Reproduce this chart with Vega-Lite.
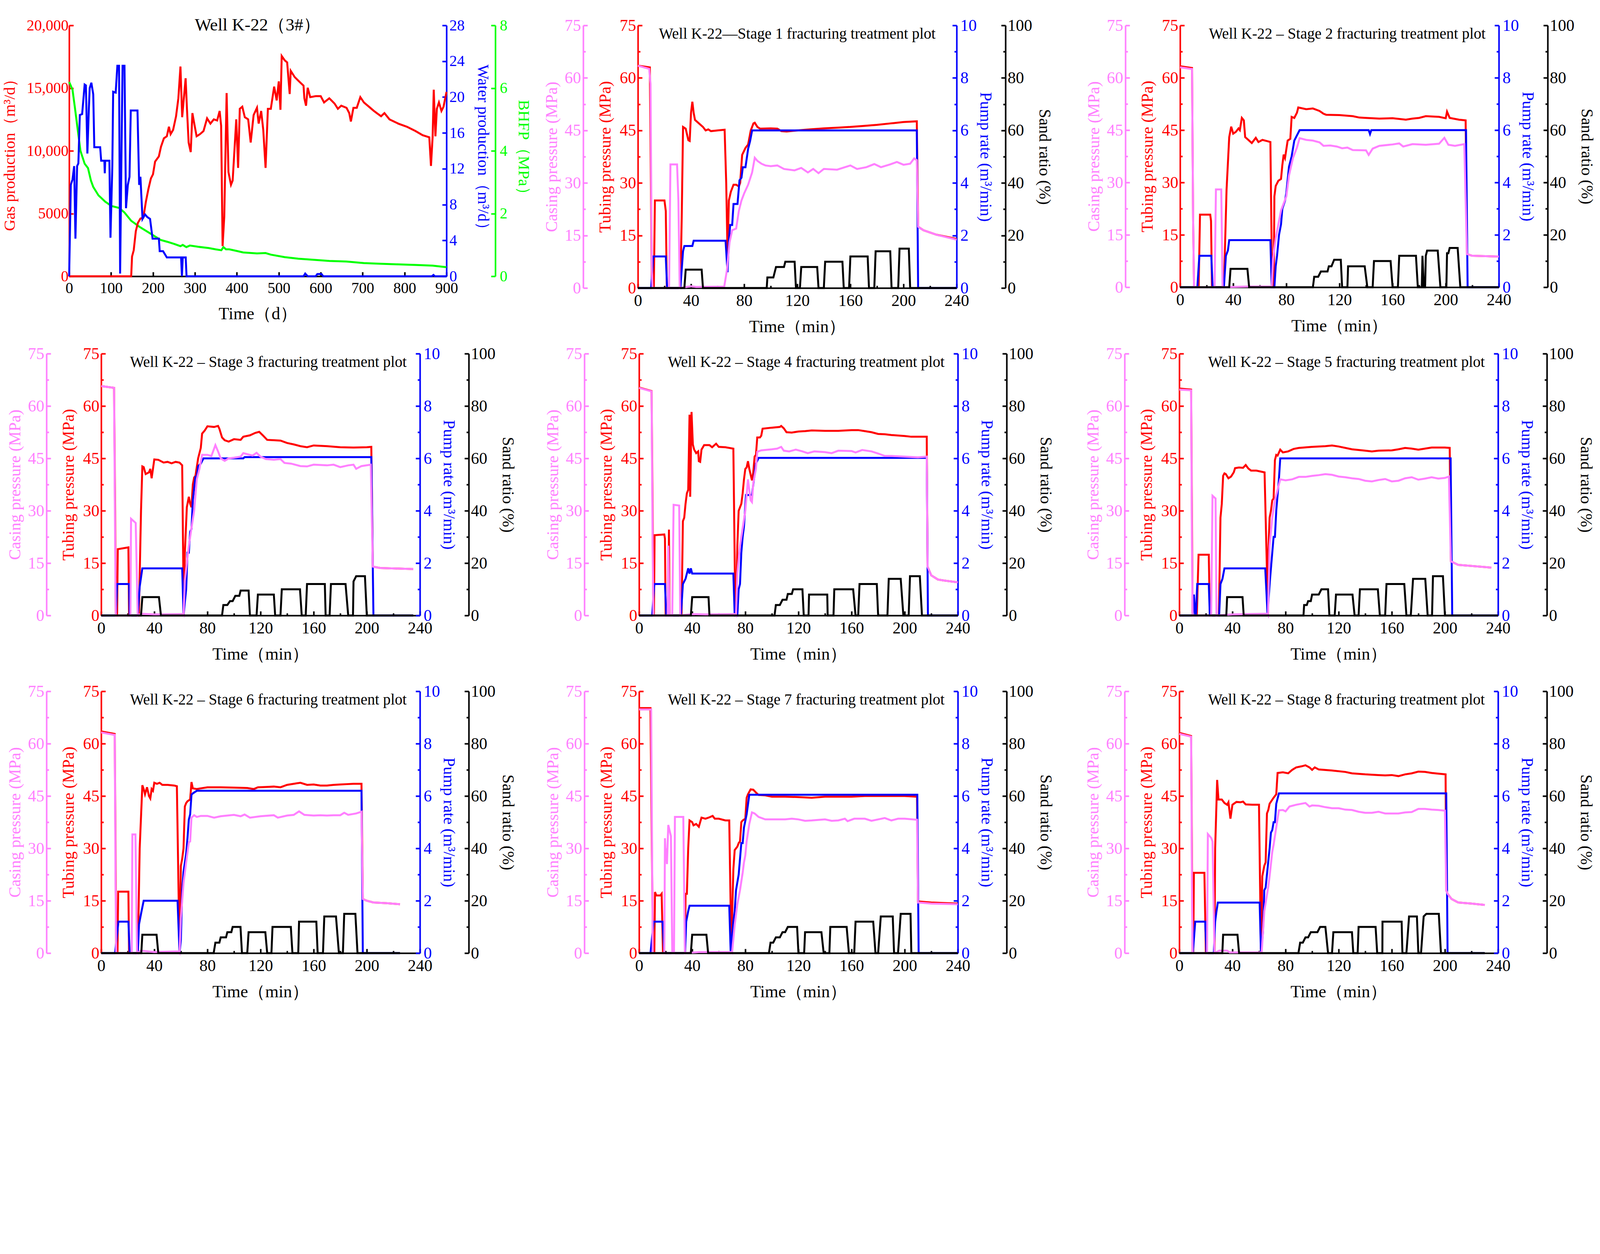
{
"$schema": "https://vega.github.io/schema/vega-lite/v6.json",
"background": "white",
"padding": {"left": 4, "top": 42, "right": 0, "bottom": 0},
"config": {
  "view": {"stroke": null},
  "font": "Liberation Serif",
  "axis": {"grid": false, "labelFont": "Liberation Serif", "titleFont": "Liberation Serif", "labelFontSize": 42, "titleFontSize": 42, "titleFontWeight": "normal", "domainWidth": 4, "tickWidth": 4, "labelOverlap": false, "labelFlush": false, "labelPadding": 16, "titlePadding": 14, "domainColor": "black", "tickColor": "black", "labelColor": "black", "titleColor": "black"},
  "title": {"font": "Liberation Serif", "fontSize": 39, "fontWeight": "normal", "color": "black"},
  "line": {"strokeWidth": 5}
},
"datasets": {
"spacer": [{"t":0}],
"g": [{"t":0,"v":0},{"t":148,"v":0},{"t":150,"v":1570},{"t":154,"v":2070},{"t":159,"v":3590},{"t":164,"v":4260},{"t":170,"v":4600},{"t":177,"v":4680},{"t":183,"v":5940},{"t":189,"v":6950},{"t":195,"v":7800},{"t":200,"v":8130},{"t":205,"v":9140},{"t":214,"v":9560},{"t":219,"v":10320},{"t":226,"v":11000},{"t":233,"v":11160},{"t":238,"v":11920},{"t":242,"v":11330},{"t":248,"v":11670},{"t":255,"v":12760},{"t":260.5,"v":14190},{"t":265.5,"v":16720},{"t":269.6,"v":12680},{"t":277.8,"v":15790},{"t":281,"v":13350},{"t":285,"v":10660},{"t":290,"v":9900},{"t":294,"v":13010},{"t":297.5,"v":12340},{"t":304,"v":11160},{"t":312,"v":11330},{"t":320.5,"v":11580},{"t":329,"v":12590},{"t":337,"v":12170},{"t":345,"v":12510},{"t":353,"v":12420},{"t":359,"v":13180},{"t":362.5,"v":12000},{"t":366,"v":2410},{"t":370,"v":4760},{"t":375.6,"v":14610},{"t":380,"v":8300},{"t":386,"v":7290},{"t":390,"v":7630},{"t":398.6,"v":12510},{"t":403,"v":8640},{"t":407,"v":13350},{"t":413,"v":13520},{"t":419,"v":12680},{"t":427,"v":12510},{"t":433,"v":10660},{"t":440,"v":12850},{"t":448,"v":13430},{"t":452,"v":12170},{"t":458,"v":13180},{"t":463,"v":11670},{"t":468.5,"v":8640},{"t":474,"v":13350},{"t":481,"v":13350},{"t":489,"v":15120},{"t":495,"v":14020},{"t":500,"v":15540},{"t":504,"v":13270},{"t":507,"v":17560},{"t":514,"v":17220},{"t":520,"v":17050},{"t":526,"v":14530},{"t":528.5,"v":16380},{"t":538,"v":15880},{"t":551,"v":15450},{"t":559,"v":15200},{"t":561,"v":14190},{"t":565,"v":13600},{"t":569,"v":15030},{"t":575,"v":14280},{"t":588,"v":14360},{"t":600,"v":14360},{"t":608,"v":13860},{"t":620.5,"v":14190},{"t":633,"v":13770},{"t":641,"v":13350},{"t":649,"v":13600},{"t":661.6,"v":13430},{"t":668,"v":13010},{"t":672,"v":12340},{"t":678,"v":13430},{"t":686,"v":13430},{"t":694.5,"v":14280},{"t":703,"v":13860},{"t":715,"v":13520},{"t":727,"v":13180},{"t":744,"v":12760},{"t":752,"v":13010},{"t":764,"v":12510},{"t":785,"v":12170},{"t":805.5,"v":11920},{"t":826,"v":11580},{"t":843,"v":11250},{"t":859,"v":11080},{"t":863,"v":8800},{"t":867,"v":11160},{"t":869.6,"v":14870},{"t":873.6,"v":11160},{"t":877,"v":13350},{"t":882,"v":13860},{"t":888,"v":13180},{"t":893,"v":13520},{"t":900,"v":14700}],
"w": [{"t":0,"v":0},{"t":4,"v":10.2},{"t":8,"v":10.8},{"t":12,"v":12.3},{"t":15,"v":4.2},{"t":19,"v":12.3},{"t":22,"v":12.6},{"t":25.5,"v":18},{"t":31,"v":18.1},{"t":37,"v":21.4},{"t":40,"v":21.3},{"t":43.5,"v":13.7},{"t":47,"v":18.7},{"t":49,"v":21},{"t":53,"v":21.6},{"t":57.5,"v":20.3},{"t":60,"v":14.4},{"t":74,"v":14.4},{"t":76.4,"v":12.9},{"t":84,"v":12.9},{"t":85,"v":11.5},{"t":86,"v":12.9},{"t":96,"v":12.9},{"t":98.6,"v":4.3},{"t":103,"v":12.3},{"t":105,"v":20.6},{"t":111,"v":20.5},{"t":115,"v":23.5},{"t":119,"v":23.5},{"t":121.6,"v":0.3},{"t":125,"v":14.4},{"t":127.4,"v":23.5},{"t":132,"v":23.5},{"t":135.6,"v":7.6},{"t":140,"v":10.2},{"t":144,"v":11.1},{"t":147,"v":18.5},{"t":163,"v":18.5},{"t":167,"v":10.2},{"t":170,"v":11.1},{"t":175,"v":6.4},{"t":181,"v":6.9},{"t":186.6,"v":6.6},{"t":193,"v":6.4},{"t":199,"v":4.2},{"t":214,"v":4.2},{"t":216,"v":2.8},{"t":224,"v":2.8},{"t":233,"v":2.1},{"t":267,"v":2.1},{"t":269,"v":0},{"t":271,"v":2.1},{"t":278,"v":2.1},{"t":280,"v":0},{"t":559,"v":0},{"t":563,"v":0.3},{"t":569,"v":0},{"t":588,"v":0},{"t":592,"v":0.25},{"t":602,"v":0.25},{"t":606,"v":0},{"t":865,"v":0},{"t":869,"v":0.15},{"t":872,"v":0},{"t":900,"v":0}],
"b": [{"t":0,"v":6.2},{"t":8,"v":5.95},{"t":14,"v":5.35},{"t":20.5,"v":4.67},{"t":27,"v":4.0},{"t":37,"v":3.59},{"t":45,"v":3.45},{"t":52,"v":3.05},{"t":57.5,"v":2.85},{"t":70,"v":2.58},{"t":86,"v":2.38},{"t":101,"v":2.24},{"t":119,"v":2.18},{"t":131.5,"v":2.04},{"t":148,"v":1.77},{"t":168.5,"v":1.57},{"t":193,"v":1.37},{"t":218,"v":1.16},{"t":234,"v":1.1},{"t":251,"v":1.03},{"t":265.5,"v":0.96},{"t":271,"v":1.0},{"t":279.5,"v":0.93},{"t":288,"v":0.98},{"t":308,"v":0.94},{"t":333,"v":0.9},{"t":349,"v":0.86},{"t":363,"v":0.83},{"t":368,"v":0.93},{"t":374,"v":0.86},{"t":382,"v":0.86},{"t":399,"v":0.81},{"t":415,"v":0.76},{"t":448,"v":0.73},{"t":468.5,"v":0.74},{"t":481,"v":0.69},{"t":514,"v":0.61},{"t":546.5,"v":0.56},{"t":579,"v":0.53},{"t":620.5,"v":0.49},{"t":661.6,"v":0.47},{"t":703,"v":0.42},{"t":744,"v":0.4},{"t":785,"v":0.38},{"t":826,"v":0.36},{"t":867,"v":0.34},{"t":900,"v":0.29}],
"s1tp": [{"t":0,"v":63.5},{"t":9,"v":63},{"t":9.8,"v":30},{"t":10.5,"v":0},{"t":12,"v":0},{"t":12.8,"v":25},{"t":20,"v":25},{"t":21,"v":22},{"t":21.8,"v":0},{"t":32,"v":0},{"t":33,"v":20},{"t":34,"v":46},{"t":36,"v":45.5},{"t":38,"v":42.2},{"t":39,"v":42},{"t":40,"v":50},{"t":41,"v":53.2},{"t":42,"v":50},{"t":43,"v":48},{"t":46,"v":47},{"t":49,"v":46},{"t":51,"v":45},{"t":53,"v":45.3},{"t":55,"v":44.8},{"t":60,"v":45},{"t":65.3,"v":45.2},{"t":66.5,"v":30},{"t":67.5,"v":9.6},{"t":68.5,"v":25},{"t":70,"v":27.5},{"t":72,"v":29.5},{"t":74,"v":29.5},{"t":76,"v":29},{"t":77,"v":30},{"t":78.5,"v":38},{"t":81,"v":40},{"t":83,"v":41},{"t":85,"v":45},{"t":87,"v":47},{"t":88,"v":47.2},{"t":90,"v":46},{"t":92,"v":45.5},{"t":100,"v":45.6},{"t":105,"v":45.5},{"t":108,"v":44.8},{"t":112,"v":44.7},{"t":120,"v":45},{"t":130,"v":45.3},{"t":140,"v":45.6},{"t":150,"v":45.8},{"t":160,"v":46},{"t":170,"v":46.3},{"t":180,"v":46.6},{"t":190,"v":47},{"t":200,"v":47.4},{"t":210,"v":47.6},{"t":211,"v":17.5},{"t":215,"v":16.5},{"t":225,"v":15.2},{"t":240,"v":14}],
"s1cp": [{"t":0,"v":63.5},{"t":8.5,"v":62.6},{"t":9.5,"v":58.3},{"t":10.5,"v":5},{"t":11,"v":0},{"t":23.5,"v":0},{"t":24.5,"v":35.3},{"t":29.5,"v":35.3},{"t":30.5,"v":25},{"t":31.5,"v":0},{"t":40,"v":0.5},{"t":44,"v":0.3},{"t":65,"v":0.4},{"t":67,"v":5},{"t":69,"v":13},{"t":71,"v":16.5},{"t":74,"v":17},{"t":76,"v":22},{"t":78,"v":25},{"t":80,"v":27},{"t":83,"v":29.5},{"t":86,"v":33},{"t":88,"v":37.2},{"t":90,"v":36.3},{"t":93,"v":35.5},{"t":96,"v":35},{"t":100,"v":34.8},{"t":105,"v":35},{"t":110,"v":34},{"t":118,"v":33.6},{"t":123,"v":34.3},{"t":128,"v":33},{"t":132,"v":34},{"t":136,"v":32.8},{"t":140,"v":34},{"t":150,"v":33.8},{"t":160,"v":35},{"t":165,"v":34},{"t":172,"v":34.5},{"t":178,"v":35.4},{"t":183,"v":34.5},{"t":190,"v":35.3},{"t":195,"v":36},{"t":200,"v":35.2},{"t":205,"v":35.5},{"t":208,"v":37},{"t":210,"v":36.5},{"t":211,"v":17.5},{"t":215,"v":16.5},{"t":225,"v":15.2},{"t":240,"v":13.8}],
"s1pr": [{"t":0,"v":0},{"t":10,"v":0},{"t":11.5,"v":1.2},{"t":21,"v":1.2},{"t":22,"v":0},{"t":32,"v":0},{"t":34,"v":1.4},{"t":35,"v":1.6},{"t":41,"v":1.6},{"t":42,"v":1.8},{"t":66,"v":1.8},{"t":67.5,"v":0.6},{"t":68.5,"v":1.8},{"t":69.5,"v":2.4},{"t":71,"v":2.4},{"t":72,"v":3.2},{"t":75,"v":3.2},{"t":76.5,"v":4.1},{"t":78,"v":4.2},{"t":79,"v":4.6},{"t":81,"v":4.6},{"t":83,"v":5.3},{"t":84.5,"v":5.6},{"t":86,"v":6.0},{"t":210,"v":6.0},{"t":211,"v":0},{"t":240,"v":0}],
"s1sr": [{"t":0,"v":0},{"t":35,"v":0},{"t":36,"v":7},{"t":48,"v":7},{"t":49,"v":0},{"t":97,"v":0},{"t":97.5,"v":4},{"t":102,"v":4},{"t":104,"v":8},{"t":110,"v":8},{"t":111,"v":10},{"t":118,"v":10},{"t":119,"v":0},{"t":122,"v":0},{"t":123,"v":8},{"t":135,"v":8},{"t":136,"v":0},{"t":140,"v":0},{"t":141,"v":10},{"t":154,"v":10},{"t":155,"v":0},{"t":159,"v":0},{"t":160,"v":12},{"t":173,"v":12},{"t":174,"v":0},{"t":178,"v":0},{"t":179,"v":14},{"t":190,"v":14},{"t":191,"v":0},{"t":196,"v":0},{"t":197,"v":15},{"t":204,"v":15},{"t":205,"v":0},{"t":240,"v":0}],
"s2tp": [{"t":0,"v":63.3},{"t":9,"v":62.8},{"t":9.8,"v":20},{"t":10.5,"v":0},{"t":14,"v":0},{"t":15,"v":20.8},{"t":22.7,"v":20.8},{"t":23.3,"v":19},{"t":24,"v":0},{"t":33,"v":0},{"t":35,"v":28},{"t":37,"v":43},{"t":38.5,"v":46},{"t":40,"v":44},{"t":42,"v":44.5},{"t":44,"v":45.5},{"t":45,"v":45},{"t":46.5,"v":48.5},{"t":48,"v":47.8},{"t":49,"v":43},{"t":52,"v":42},{"t":54,"v":41.3},{"t":57,"v":42.8},{"t":59,"v":41.6},{"t":62,"v":42.2},{"t":65,"v":41.9},{"t":68,"v":41.6},{"t":69.3,"v":0},{"t":70.5,"v":0},{"t":71,"v":26},{"t":72,"v":29},{"t":74,"v":30.5},{"t":76,"v":31},{"t":77,"v":35},{"t":78,"v":38},{"t":79,"v":37},{"t":81,"v":42},{"t":83,"v":42.5},{"t":84,"v":48.8},{"t":86,"v":48.5},{"t":88,"v":50},{"t":89,"v":51.5},{"t":95,"v":51},{"t":100,"v":51.2},{"t":105,"v":50.5},{"t":108,"v":49.7},{"t":110,"v":49.4},{"t":120,"v":49.3},{"t":130,"v":49},{"t":135,"v":48.6},{"t":140,"v":48.5},{"t":150,"v":48.3},{"t":160,"v":48.4},{"t":170,"v":48},{"t":175,"v":48.3},{"t":180,"v":48.5},{"t":185,"v":49},{"t":195,"v":48.8},{"t":200,"v":48.4},{"t":201,"v":50.3},{"t":203,"v":48.5},{"t":210,"v":48},{"t":215,"v":47.8},{"t":216,"v":9.5},{"t":220,"v":9},{"t":240,"v":8.8}],
"s2cp": [{"t":0,"v":63},{"t":9,"v":62.5},{"t":9.8,"v":20},{"t":10.5,"v":0},{"t":26,"v":0},{"t":27,"v":28},{"t":31,"v":28},{"t":32,"v":0},{"t":50,"v":0.2},{"t":69,"v":0.2},{"t":70,"v":8},{"t":72,"v":14},{"t":74,"v":18},{"t":76,"v":22},{"t":78,"v":24},{"t":80,"v":26},{"t":82,"v":32},{"t":85,"v":37},{"t":88,"v":40},{"t":90,"v":42.7},{"t":95,"v":42.2},{"t":100,"v":42},{"t":105,"v":41.5},{"t":108,"v":40.5},{"t":113,"v":40.6},{"t":118,"v":40.3},{"t":122,"v":39.8},{"t":126,"v":40},{"t":130,"v":39.3},{"t":140,"v":39.2},{"t":142,"v":37.9},{"t":145,"v":39.7},{"t":150,"v":40.5},{"t":160,"v":40.9},{"t":165,"v":41.2},{"t":168,"v":40.3},{"t":175,"v":41},{"t":185,"v":40.8},{"t":195,"v":41.1},{"t":199,"v":42.8},{"t":202,"v":40.8},{"t":207,"v":40.5},{"t":214,"v":41},{"t":216,"v":9.5},{"t":220,"v":9},{"t":240,"v":8.8}],
"s2pr": [{"t":0,"v":0},{"t":13,"v":0},{"t":14.5,"v":1.2},{"t":23.5,"v":1.2},{"t":24.5,"v":0},{"t":33,"v":0},{"t":34.5,"v":1.2},{"t":36,"v":1.4},{"t":37,"v":1.8},{"t":68,"v":1.8},{"t":69,"v":0},{"t":71,"v":0},{"t":72,"v":0.8},{"t":73,"v":1.2},{"t":74.5,"v":2.0},{"t":76,"v":2.4},{"t":77,"v":3.0},{"t":79,"v":3.3},{"t":80,"v":3.6},{"t":82,"v":4.6},{"t":84,"v":5.0},{"t":86,"v":5.6},{"t":88,"v":5.8},{"t":90,"v":6.0},{"t":142,"v":6.0},{"t":143,"v":5.85},{"t":144,"v":6.0},{"t":215.3,"v":6.0},{"t":216.5,"v":0},{"t":240,"v":0}],
"s2sr": [{"t":0,"v":0},{"t":37,"v":0},{"t":38,"v":7},{"t":50.7,"v":7},{"t":52,"v":0},{"t":100,"v":0},{"t":101,"v":4},{"t":104,"v":4},{"t":106,"v":6},{"t":111,"v":6},{"t":112,"v":8},{"t":114,"v":8},{"t":116,"v":10.5},{"t":121,"v":10.5},{"t":122,"v":0},{"t":126,"v":0},{"t":126.5,"v":8},{"t":139,"v":8},{"t":141,"v":0},{"t":145,"v":0},{"t":146,"v":10},{"t":158.5,"v":10},{"t":160,"v":0},{"t":164,"v":0},{"t":165,"v":12},{"t":177.6,"v":12},{"t":179,"v":0},{"t":182,"v":0},{"t":182.5,"v":12},{"t":183.5,"v":0},{"t":184.5,"v":0},{"t":185,"v":12},{"t":186,"v":14},{"t":194,"v":14},{"t":196,"v":0},{"t":200.5,"v":0},{"t":201,"v":13},{"t":202,"v":13},{"t":203,"v":15},{"t":209,"v":15},{"t":211,"v":0},{"t":240,"v":0}],
"s3tp": [{"t":0,"v":65.7},{"t":9.7,"v":65.2},{"t":10.5,"v":30},{"t":11,"v":0},{"t":12,"v":0},{"t":12.5,"v":19},{"t":20.5,"v":19.5},{"t":21,"v":0},{"t":28.4,"v":0},{"t":30,"v":30},{"t":31,"v":42.7},{"t":32,"v":42.5},{"t":33.5,"v":40.5},{"t":36,"v":41},{"t":37,"v":42},{"t":38,"v":39.3},{"t":40,"v":44.7},{"t":43,"v":44.6},{"t":47,"v":43.8},{"t":50,"v":44},{"t":53,"v":43.6},{"t":56,"v":44},{"t":59,"v":43.8},{"t":61,"v":43},{"t":62.2,"v":0},{"t":63,"v":17.9},{"t":64.5,"v":31},{"t":66,"v":34},{"t":67,"v":32},{"t":68,"v":31},{"t":69,"v":37.5},{"t":70,"v":39.5},{"t":71,"v":40},{"t":73,"v":45},{"t":75,"v":48},{"t":76,"v":52.1},{"t":78,"v":53},{"t":80,"v":54.2},{"t":85,"v":54},{"t":88,"v":54.3},{"t":89,"v":53.5},{"t":91,"v":51},{"t":93,"v":50.2},{"t":96,"v":49.8},{"t":100,"v":50.5},{"t":105,"v":50.3},{"t":107,"v":51.2},{"t":112,"v":51.6},{"t":116,"v":52.3},{"t":119,"v":52.6},{"t":122,"v":51.5},{"t":125,"v":50.3},{"t":130,"v":50.2},{"t":135,"v":50.1},{"t":140,"v":49.4},{"t":145,"v":49},{"t":150,"v":48.5},{"t":155,"v":48.2},{"t":160,"v":48.7},{"t":170,"v":48.5},{"t":180,"v":48.2},{"t":190,"v":48.1},{"t":200,"v":48.2},{"t":203.4,"v":48.3},{"t":204.5,"v":14},{"t":210,"v":13.6},{"t":235,"v":13.3}],
"s3cp": [{"t":0,"v":65.7},{"t":9.7,"v":65.2},{"t":10.5,"v":20},{"t":11,"v":0},{"t":22,"v":0},{"t":22.5,"v":27.7},{"t":26,"v":26.5},{"t":27.5,"v":0},{"t":30,"v":0.5},{"t":40,"v":0.3},{"t":61,"v":0.4},{"t":62,"v":0},{"t":63,"v":10},{"t":66,"v":20},{"t":68,"v":25},{"t":70,"v":30},{"t":72,"v":39},{"t":74,"v":42},{"t":76,"v":46},{"t":80,"v":46},{"t":83,"v":45.7},{"t":86,"v":48.8},{"t":88,"v":47},{"t":90,"v":45},{"t":93,"v":44.3},{"t":96,"v":45},{"t":100,"v":45.2},{"t":105,"v":45.5},{"t":107,"v":46.5},{"t":110,"v":46.2},{"t":114,"v":45.8},{"t":117,"v":46.6},{"t":120,"v":45.5},{"t":124,"v":44.8},{"t":130,"v":44.6},{"t":135,"v":44.8},{"t":138,"v":43.7},{"t":143,"v":43.5},{"t":150,"v":42.8},{"t":155,"v":42.7},{"t":160,"v":43.2},{"t":170,"v":43},{"t":175,"v":43.2},{"t":180,"v":42.5},{"t":186,"v":43},{"t":190,"v":43.2},{"t":192,"v":42},{"t":196,"v":42.8},{"t":203,"v":43.2},{"t":204.5,"v":14},{"t":210,"v":13.6},{"t":235,"v":13.3}],
"s3pr": [{"t":0,"v":0},{"t":11,"v":0},{"t":12,"v":1.2},{"t":21,"v":1.2},{"t":21.5,"v":0},{"t":27.5,"v":0},{"t":29,"v":1.1},{"t":31,"v":1.8},{"t":61,"v":1.8},{"t":62,"v":0},{"t":64,"v":1.0},{"t":65,"v":2.4},{"t":66,"v":2.4},{"t":67,"v":3.2},{"t":68,"v":3.3},{"t":69,"v":4.4},{"t":71,"v":5.3},{"t":72,"v":5.3},{"t":73,"v":5.7},{"t":75,"v":5.8},{"t":77,"v":6.0},{"t":107,"v":6.0},{"t":108,"v":6.05},{"t":203.4,"v":6.05},{"t":205,"v":0},{"t":235,"v":0}],
"s3sr": [{"t":0,"v":0},{"t":30,"v":0},{"t":31,"v":7},{"t":43.5,"v":7},{"t":45,"v":0},{"t":91,"v":0},{"t":92,"v":4},{"t":95,"v":4},{"t":97,"v":5.5},{"t":99,"v":5.5},{"t":101,"v":7.5},{"t":104,"v":7.5},{"t":105,"v":9.5},{"t":111,"v":9.5},{"t":112,"v":0},{"t":117,"v":0},{"t":118,"v":8},{"t":130,"v":8},{"t":131,"v":0},{"t":135,"v":0},{"t":136,"v":10},{"t":149.7,"v":10},{"t":151,"v":0},{"t":154,"v":0},{"t":155,"v":12},{"t":168.4,"v":12},{"t":169,"v":0},{"t":172,"v":0},{"t":173,"v":12},{"t":184,"v":12},{"t":186,"v":0},{"t":189.6,"v":0},{"t":190,"v":13},{"t":192,"v":15},{"t":198.6,"v":15},{"t":200,"v":0},{"t":235,"v":0}],
"s4tp": [{"t":0,"v":65.3},{"t":9.4,"v":64.3},{"t":10.2,"v":30},{"t":10.8,"v":0},{"t":11.2,"v":0},{"t":11.7,"v":23},{"t":19,"v":23.2},{"t":19.5,"v":22},{"t":20,"v":0},{"t":22,"v":0},{"t":22.5,"v":24.6},{"t":23,"v":0},{"t":32,"v":0},{"t":33,"v":27},{"t":34,"v":28},{"t":35,"v":32},{"t":36,"v":35},{"t":37,"v":36},{"t":38,"v":57.5},{"t":38.5,"v":34},{"t":39.5,"v":58.3},{"t":40.5,"v":49},{"t":41.5,"v":47.5},{"t":43,"v":46.5},{"t":44.5,"v":47},{"t":45,"v":44.2},{"t":46,"v":44},{"t":47,"v":47.5},{"t":49,"v":48.8},{"t":53,"v":48.8},{"t":55,"v":48.2},{"t":58,"v":49.2},{"t":60,"v":48.3},{"t":65,"v":48.2},{"t":71,"v":47.8},{"t":72.5,"v":0},{"t":73,"v":0},{"t":74,"v":20},{"t":75,"v":30},{"t":77,"v":32},{"t":78,"v":35},{"t":79,"v":39},{"t":80,"v":42},{"t":81,"v":42.4},{"t":82,"v":44.2},{"t":83,"v":42},{"t":85,"v":38.7},{"t":86,"v":41},{"t":87,"v":45.5},{"t":88,"v":46},{"t":89,"v":51},{"t":91,"v":51},{"t":92,"v":51.5},{"t":93,"v":53.5},{"t":100,"v":53.8},{"t":106,"v":54},{"t":107,"v":54.3},{"t":109,"v":53.6},{"t":111,"v":52.5},{"t":115,"v":52.4},{"t":120,"v":52.7},{"t":125,"v":52.8},{"t":130,"v":53},{"t":140,"v":52.9},{"t":150,"v":52.9},{"t":160,"v":53.1},{"t":165,"v":53.1},{"t":170,"v":52.8},{"t":175,"v":52.5},{"t":180,"v":52},{"t":185,"v":51.9},{"t":190,"v":51.7},{"t":200,"v":51.4},{"t":205,"v":51.2},{"t":216.6,"v":51.2},{"t":217.2,"v":14},{"t":220,"v":11.5},{"t":225,"v":10.3},{"t":230,"v":10},{"t":240,"v":9.5}],
"s4cp": [{"t":0,"v":65.2},{"t":9.4,"v":64.2},{"t":10.2,"v":20},{"t":10.8,"v":0},{"t":21.5,"v":0},{"t":22,"v":20},{"t":23,"v":0},{"t":25,"v":0},{"t":26,"v":31.7},{"t":30.2,"v":31.5},{"t":31,"v":0},{"t":40,"v":0.4},{"t":50,"v":0.3},{"t":72,"v":0.4},{"t":73,"v":0},{"t":74,"v":12},{"t":76,"v":20},{"t":78,"v":25},{"t":80,"v":30},{"t":82,"v":39},{"t":84,"v":33},{"t":85,"v":32.5},{"t":86,"v":38},{"t":88,"v":42},{"t":89,"v":46.9},{"t":92,"v":47.3},{"t":100,"v":47.6},{"t":104,"v":47.8},{"t":107,"v":48.3},{"t":109,"v":47.2},{"t":113,"v":47},{"t":118,"v":47.5},{"t":123,"v":47},{"t":127,"v":46.5},{"t":132,"v":47},{"t":140,"v":46.8},{"t":145,"v":46.5},{"t":150,"v":47.2},{"t":160,"v":47.1},{"t":163,"v":46.7},{"t":168,"v":47.4},{"t":175,"v":47},{"t":180,"v":46.4},{"t":185,"v":45.7},{"t":190,"v":45.7},{"t":200,"v":45.5},{"t":210,"v":45.3},{"t":216.6,"v":45.5},{"t":217.2,"v":14},{"t":220,"v":11.5},{"t":225,"v":10.3},{"t":230,"v":10},{"t":240,"v":9.5}],
"s4pr": [{"t":0,"v":0},{"t":9.9,"v":0},{"t":11.5,"v":1.2},{"t":19.5,"v":1.2},{"t":20.5,"v":0},{"t":31.5,"v":0},{"t":33,"v":1.2},{"t":35,"v":1.4},{"t":37,"v":1.8},{"t":38,"v":1.6},{"t":39,"v":1.8},{"t":40,"v":1.6},{"t":71,"v":1.6},{"t":72,"v":0},{"t":74,"v":0},{"t":75,"v":1.0},{"t":76,"v":1.2},{"t":77,"v":2.4},{"t":78,"v":3.0},{"t":79,"v":3.4},{"t":80.5,"v":4.6},{"t":85,"v":4.6},{"t":86,"v":5.0},{"t":88,"v":5.8},{"t":90,"v":6.02},{"t":216.6,"v":6.02},{"t":217.5,"v":0},{"t":240,"v":0}],
"s4sr": [{"t":0,"v":0},{"t":39,"v":0},{"t":40,"v":7},{"t":52.3,"v":7},{"t":53,"v":0},{"t":102,"v":0},{"t":103,"v":4},{"t":106,"v":4},{"t":108,"v":6},{"t":111,"v":6},{"t":112,"v":8.2},{"t":115,"v":8.2},{"t":116,"v":10},{"t":123,"v":10},{"t":124,"v":0},{"t":127.6,"v":0},{"t":128,"v":8},{"t":141.7,"v":8},{"t":142,"v":0},{"t":146.4,"v":0},{"t":147,"v":10},{"t":161.2,"v":10},{"t":163,"v":0},{"t":165,"v":0},{"t":166,"v":12},{"t":179,"v":12},{"t":180,"v":0},{"t":187,"v":0},{"t":188,"v":14},{"t":197,"v":14},{"t":199,"v":0},{"t":203,"v":0},{"t":204,"v":15},{"t":211.4,"v":15},{"t":213,"v":0},{"t":240,"v":0}],
"s5tp": [{"t":0,"v":65},{"t":8.9,"v":64.7},{"t":9.5,"v":30},{"t":10,"v":0},{"t":13.2,"v":0},{"t":14.5,"v":17.4},{"t":22.2,"v":17.4},{"t":23,"v":0},{"t":29.8,"v":0},{"t":31,"v":28},{"t":32,"v":32},{"t":33,"v":40},{"t":34,"v":40.7},{"t":35,"v":40.5},{"t":37,"v":39.3},{"t":39,"v":39.8},{"t":41,"v":41},{"t":42,"v":42.2},{"t":45,"v":42.4},{"t":48,"v":42.3},{"t":50,"v":43.1},{"t":52,"v":42.1},{"t":54,"v":41.5},{"t":58,"v":41.5},{"t":64.2,"v":41},{"t":66.8,"v":0},{"t":67,"v":18},{"t":68,"v":28},{"t":69,"v":30},{"t":70,"v":33},{"t":71,"v":33.5},{"t":72,"v":44.5},{"t":73,"v":46},{"t":74,"v":45.8},{"t":76,"v":47.5},{"t":78,"v":46.7},{"t":82,"v":47},{"t":86,"v":47.7},{"t":90,"v":48},{"t":100,"v":48.3},{"t":110,"v":48.5},{"t":115,"v":48.7},{"t":120,"v":48.4},{"t":130,"v":47.6},{"t":140,"v":47.2},{"t":145,"v":47},{"t":150,"v":47.2},{"t":160,"v":47.3},{"t":165,"v":47.6},{"t":170,"v":48},{"t":175,"v":47.8},{"t":180,"v":47.5},{"t":190,"v":48.1},{"t":200,"v":48.1},{"t":203.6,"v":48},{"t":204.5,"v":15.5},{"t":210,"v":14.5},{"t":220,"v":14.2},{"t":235,"v":13.7}],
"s5cp": [{"t":0,"v":64.7},{"t":8.9,"v":64.5},{"t":9.5,"v":20},{"t":10,"v":0},{"t":24,"v":0},{"t":25,"v":34.3},{"t":27.3,"v":33.5},{"t":28,"v":0},{"t":40,"v":0.3},{"t":66,"v":0.5},{"t":66.8,"v":0},{"t":68,"v":20},{"t":70,"v":28},{"t":72,"v":33},{"t":74,"v":36},{"t":76,"v":39},{"t":80,"v":38.7},{"t":85,"v":39},{"t":90,"v":39.7},{"t":95,"v":39.7},{"t":100,"v":40},{"t":105,"v":40.2},{"t":110,"v":40.5},{"t":115,"v":40.3},{"t":120,"v":39.8},{"t":125,"v":39.6},{"t":130,"v":39.3},{"t":135,"v":39.1},{"t":140,"v":38.6},{"t":145,"v":38.4},{"t":150,"v":38.8},{"t":155,"v":39.1},{"t":160,"v":38.4},{"t":165,"v":38.6},{"t":170,"v":39.3},{"t":175,"v":39.6},{"t":180,"v":38.9},{"t":185,"v":39.2},{"t":190,"v":39.6},{"t":195,"v":39.2},{"t":200,"v":39.4},{"t":203,"v":39.8},{"t":204.5,"v":15.5},{"t":210,"v":14.5},{"t":220,"v":14.2},{"t":235,"v":13.7}],
"s5pr": [{"t":0,"v":0},{"t":10.2,"v":0},{"t":11,"v":0.8},{"t":12,"v":0},{"t":12.5,"v":0},{"t":13.5,"v":1.2},{"t":22.2,"v":1.2},{"t":23,"v":0},{"t":30,"v":0},{"t":31,"v":1.2},{"t":32.5,"v":1.4},{"t":34,"v":1.8},{"t":64.7,"v":1.8},{"t":66.5,"v":0},{"t":67,"v":0.5},{"t":68.5,"v":1.5},{"t":70,"v":2.4},{"t":71,"v":3.0},{"t":72,"v":3.0},{"t":73,"v":4.0},{"t":75,"v":5.2},{"t":76,"v":6.0},{"t":204.3,"v":6.0},{"t":205.5,"v":0},{"t":240,"v":0}],
"s5sr": [{"t":0,"v":0},{"t":35.4,"v":0},{"t":36,"v":7},{"t":47.6,"v":7},{"t":48.5,"v":0},{"t":93.5,"v":0},{"t":94,"v":4},{"t":96,"v":4},{"t":97,"v":5.5},{"t":99,"v":5.5},{"t":100,"v":8},{"t":105,"v":8},{"t":107,"v":10},{"t":112,"v":10},{"t":113,"v":0},{"t":117,"v":0},{"t":118,"v":8},{"t":130.4,"v":8},{"t":132,"v":0},{"t":135,"v":0},{"t":136,"v":10},{"t":149.5,"v":10},{"t":151,"v":0},{"t":155,"v":0},{"t":156,"v":12},{"t":169.4,"v":12},{"t":171,"v":0},{"t":174.3,"v":0},{"t":176,"v":14},{"t":185.2,"v":14},{"t":187,"v":0},{"t":190.3,"v":0},{"t":191,"v":15},{"t":198.5,"v":15},{"t":200,"v":0},{"t":240,"v":0}],
"s6tp": [{"t":0,"v":63.5},{"t":10.2,"v":62.8},{"t":10.8,"v":30},{"t":11.3,"v":0},{"t":12.3,"v":0},{"t":12.8,"v":17.6},{"t":20.5,"v":17.6},{"t":21,"v":0},{"t":27.6,"v":0},{"t":29,"v":30},{"t":31,"v":48.1},{"t":32,"v":47},{"t":33,"v":45.5},{"t":34.5,"v":47.5},{"t":36,"v":45},{"t":37,"v":44.3},{"t":38,"v":47},{"t":39,"v":46.5},{"t":40,"v":48.8},{"t":42,"v":48.5},{"t":44,"v":48.8},{"t":46,"v":48.2},{"t":50,"v":48.2},{"t":55,"v":48},{"t":57,"v":47.8},{"t":59,"v":0},{"t":60,"v":25},{"t":61,"v":27},{"t":62,"v":30},{"t":63,"v":42},{"t":64,"v":43},{"t":65,"v":43.5},{"t":67,"v":44},{"t":68,"v":49},{"t":69,"v":47.2},{"t":72,"v":47},{"t":75,"v":47.2},{"t":80,"v":47.5},{"t":90,"v":47.5},{"t":100,"v":47.4},{"t":110,"v":47.3},{"t":115,"v":47},{"t":118,"v":47.5},{"t":125,"v":47.6},{"t":130,"v":47.7},{"t":135,"v":47.5},{"t":140,"v":48.2},{"t":145,"v":48.5},{"t":150,"v":48.8},{"t":155,"v":48.2},{"t":160,"v":48.3},{"t":165,"v":48},{"t":170,"v":48},{"t":175,"v":48.2},{"t":180,"v":48.3},{"t":185,"v":48.4},{"t":190,"v":48.5},{"t":196,"v":48.5},{"t":197,"v":15.5},{"t":200,"v":15},{"t":205,"v":14.5},{"t":215,"v":14.3},{"t":225,"v":14}],
"s6cp": [{"t":0,"v":63.2},{"t":10.2,"v":62.5},{"t":10.8,"v":20},{"t":11.3,"v":0},{"t":23,"v":0},{"t":23.5,"v":34},{"t":25.8,"v":34},{"t":27,"v":0},{"t":30,"v":0.7},{"t":35,"v":0.5},{"t":40,"v":0.3},{"t":58,"v":0.5},{"t":59,"v":0},{"t":60,"v":10},{"t":62,"v":20},{"t":64,"v":26},{"t":66,"v":31.7},{"t":67,"v":32},{"t":68,"v":38.8},{"t":70,"v":39.5},{"t":72,"v":39},{"t":75,"v":39.3},{"t":80,"v":39.3},{"t":85,"v":38.8},{"t":90,"v":39.2},{"t":100,"v":39.6},{"t":105,"v":39.2},{"t":108,"v":39.7},{"t":112,"v":38.8},{"t":120,"v":39.2},{"t":130,"v":39.5},{"t":133,"v":38.8},{"t":140,"v":39.4},{"t":145,"v":39.6},{"t":149,"v":40.6},{"t":153,"v":39.6},{"t":160,"v":39.4},{"t":165,"v":39.5},{"t":170,"v":39.4},{"t":175,"v":39.5},{"t":180,"v":39.5},{"t":183,"v":40.2},{"t":186,"v":39.6},{"t":192,"v":40},{"t":196,"v":40.5},{"t":197,"v":15.5},{"t":200,"v":15},{"t":205,"v":14.5},{"t":215,"v":14.3},{"t":225,"v":14}],
"s6pr": [{"t":0,"v":0},{"t":10.5,"v":0},{"t":13,"v":1.2},{"t":20.5,"v":1.2},{"t":21.5,"v":0},{"t":27.6,"v":0},{"t":28.5,"v":1.1},{"t":30,"v":1.5},{"t":32,"v":2.0},{"t":57.5,"v":2.0},{"t":59,"v":0},{"t":60,"v":0.5},{"t":61,"v":2.4},{"t":62,"v":3.1},{"t":64,"v":3.8},{"t":65,"v":4.4},{"t":66,"v":5.1},{"t":67,"v":5.3},{"t":68,"v":6.05},{"t":69,"v":6.1},{"t":72,"v":6.2},{"t":196,"v":6.2},{"t":197,"v":0},{"t":225,"v":0}],
"s6sr": [{"t":0,"v":0},{"t":30.2,"v":0},{"t":31,"v":7},{"t":41.7,"v":7},{"t":43,"v":0},{"t":84.7,"v":0},{"t":86,"v":4},{"t":89,"v":4},{"t":90,"v":6},{"t":94,"v":6},{"t":95,"v":8},{"t":98,"v":8},{"t":99,"v":10},{"t":104.9,"v":10},{"t":106,"v":0},{"t":110,"v":0},{"t":111,"v":8},{"t":123.6,"v":8},{"t":125,"v":0},{"t":128.2,"v":0},{"t":129,"v":10},{"t":142.8,"v":10},{"t":144,"v":0},{"t":148.4,"v":0},{"t":149,"v":12},{"t":162,"v":12},{"t":163,"v":0},{"t":167,"v":0},{"t":168,"v":14},{"t":176.8,"v":14},{"t":179,"v":0},{"t":182,"v":0},{"t":183,"v":15},{"t":191.4,"v":15},{"t":193,"v":0},{"t":225,"v":0}],
"s7tp": [{"t":0,"v":70.2},{"t":8.6,"v":70.2},{"t":9.5,"v":35},{"t":10.5,"v":0},{"t":11.5,"v":0},{"t":12,"v":17.5},{"t":13,"v":16.5},{"t":16,"v":16.5},{"t":17,"v":17},{"t":18,"v":0},{"t":34.6,"v":0},{"t":35,"v":17},{"t":36,"v":17},{"t":37,"v":30},{"t":38,"v":38},{"t":40,"v":37.5},{"t":41,"v":36.6},{"t":43,"v":37},{"t":45,"v":36.2},{"t":47,"v":38.8},{"t":50,"v":38.5},{"t":53,"v":38.9},{"t":55.4,"v":39.3},{"t":57,"v":38.5},{"t":60,"v":38.5},{"t":65,"v":38},{"t":67.9,"v":38},{"t":69.5,"v":0},{"t":70,"v":10},{"t":71,"v":24},{"t":72,"v":29.5},{"t":74,"v":30.5},{"t":75,"v":31.5},{"t":76,"v":32},{"t":77,"v":37.5},{"t":78,"v":38},{"t":80,"v":38.5},{"t":81,"v":44.5},{"t":82,"v":45.5},{"t":84,"v":46.9},{"t":86,"v":46.8},{"t":88,"v":46},{"t":90,"v":45.3},{"t":95,"v":45.2},{"t":100,"v":44.8},{"t":110,"v":44.8},{"t":120,"v":44.7},{"t":130,"v":44.5},{"t":140,"v":44.8},{"t":150,"v":44.8},{"t":160,"v":44.8},{"t":170,"v":45},{"t":180,"v":45},{"t":190,"v":45},{"t":200,"v":45},{"t":209.3,"v":44.8},{"t":210,"v":14.8},{"t":220,"v":14.5},{"t":240,"v":14.2}],
"s7cp": [{"t":0,"v":69.8},{"t":9.1,"v":69.8},{"t":9.7,"v":35},{"t":10.3,"v":0},{"t":19,"v":0},{"t":19.5,"v":32.9},{"t":20,"v":28},{"t":20.5,"v":30},{"t":21,"v":25.5},{"t":22,"v":36.7},{"t":24,"v":33.5},{"t":25,"v":0},{"t":26.3,"v":0},{"t":27,"v":39},{"t":33.3,"v":39},{"t":34.5,"v":0},{"t":45,"v":0.3},{"t":69,"v":0.3},{"t":70,"v":0},{"t":72,"v":8},{"t":74,"v":14},{"t":76,"v":18},{"t":78,"v":23},{"t":79,"v":26},{"t":80,"v":28},{"t":81,"v":32},{"t":83,"v":37},{"t":85,"v":40.3},{"t":87,"v":40},{"t":90,"v":39},{"t":95,"v":38.3},{"t":100,"v":38.3},{"t":110,"v":38.3},{"t":115,"v":38.5},{"t":120,"v":38.3},{"t":125,"v":37.9},{"t":130,"v":38},{"t":140,"v":38.3},{"t":145,"v":37.9},{"t":150,"v":38},{"t":155,"v":38.5},{"t":157,"v":37.8},{"t":162,"v":38.5},{"t":170,"v":38.5},{"t":175,"v":37.9},{"t":180,"v":38.3},{"t":185,"v":38.7},{"t":190,"v":38},{"t":195,"v":38.5},{"t":200,"v":38.5},{"t":209.3,"v":38.2},{"t":210,"v":14.5},{"t":220,"v":14.2},{"t":240,"v":14}],
"s7pr": [{"t":0,"v":0},{"t":8.6,"v":0},{"t":11,"v":1.2},{"t":17.7,"v":1.2},{"t":19,"v":0},{"t":34.6,"v":0},{"t":35.5,"v":1.2},{"t":37,"v":1.6},{"t":38,"v":1.81},{"t":67.9,"v":1.81},{"t":69,"v":0},{"t":70,"v":0.6},{"t":71,"v":1.2},{"t":72,"v":1.6},{"t":73,"v":2.4},{"t":75,"v":3.0},{"t":77,"v":4.2},{"t":78,"v":4.2},{"t":79,"v":4.8},{"t":81,"v":5.3},{"t":83,"v":6.05},{"t":209.5,"v":6.05},{"t":210.5,"v":0},{"t":240,"v":0}],
"s7sr": [{"t":0,"v":0},{"t":39,"v":0},{"t":40,"v":7},{"t":50.7,"v":7},{"t":52,"v":0},{"t":97.8,"v":0},{"t":99,"v":4},{"t":101,"v":4},{"t":103,"v":6},{"t":106,"v":6},{"t":108,"v":8},{"t":110,"v":8},{"t":112,"v":10},{"t":119,"v":10},{"t":120,"v":0},{"t":124.3,"v":0},{"t":125,"v":8},{"t":137.3,"v":8},{"t":139,"v":0},{"t":143.3,"v":0},{"t":144,"v":10},{"t":156.3,"v":10},{"t":158,"v":0},{"t":162,"v":0},{"t":163,"v":12},{"t":176.3,"v":12},{"t":178,"v":0},{"t":180,"v":0},{"t":182,"v":14},{"t":191,"v":14},{"t":192,"v":0},{"t":195,"v":0},{"t":197,"v":15},{"t":204.4,"v":15},{"t":205,"v":0},{"t":240,"v":0}],
"s8tp": [{"t":0,"v":63.1},{"t":8.9,"v":62.2},{"t":9.5,"v":30},{"t":10,"v":0},{"t":10.5,"v":0},{"t":11,"v":23},{"t":18.9,"v":23},{"t":20,"v":0},{"t":26.5,"v":0},{"t":27,"v":30},{"t":28,"v":43},{"t":28.5,"v":49.6},{"t":29.5,"v":44},{"t":32,"v":44},{"t":34,"v":43},{"t":36,"v":42.5},{"t":37,"v":43.2},{"t":38.5,"v":38.5},{"t":40,"v":42.5},{"t":43,"v":43.3},{"t":46,"v":43.2},{"t":48,"v":43.4},{"t":50,"v":42.6},{"t":55,"v":42.5},{"t":60,"v":42.5},{"t":61.5,"v":0},{"t":62.5,"v":22},{"t":64,"v":25},{"t":65,"v":26},{"t":66,"v":40},{"t":67,"v":41},{"t":68,"v":42.8},{"t":71,"v":44.5},{"t":73,"v":45.5},{"t":74,"v":51.6},{"t":78,"v":51.8},{"t":82,"v":51.5},{"t":85,"v":52.5},{"t":88,"v":53.2},{"t":92,"v":53.5},{"t":95,"v":53.8},{"t":98,"v":53.2},{"t":100,"v":52.5},{"t":102,"v":53.2},{"t":105,"v":52.6},{"t":115,"v":52.3},{"t":125,"v":51.9},{"t":130,"v":51.5},{"t":140,"v":51.2},{"t":150,"v":51},{"t":155,"v":50.9},{"t":160,"v":51},{"t":165,"v":50.7},{"t":170,"v":51.2},{"t":175,"v":51.5},{"t":180,"v":52},{"t":185,"v":51.9},{"t":190,"v":51.6},{"t":195,"v":51.4},{"t":200.5,"v":51.2},{"t":201,"v":18},{"t":202,"v":17},{"t":205,"v":15.5},{"t":210,"v":14.5},{"t":220,"v":14.2},{"t":230,"v":13.8}],
"s8cp": [{"t":0,"v":62.8},{"t":8.9,"v":62},{"t":9.5,"v":20},{"t":10,"v":0},{"t":20.9,"v":0},{"t":21.5,"v":34.1},{"t":24,"v":33},{"t":25,"v":32},{"t":26.5,"v":0},{"t":30,"v":0.7},{"t":36,"v":0.7},{"t":38,"v":0.2},{"t":61,"v":0.2},{"t":62,"v":0},{"t":64,"v":12},{"t":67,"v":19},{"t":68,"v":22},{"t":70,"v":29},{"t":71,"v":31},{"t":73,"v":36},{"t":75,"v":40.9},{"t":78,"v":41},{"t":80,"v":40.6},{"t":83,"v":42},{"t":88,"v":42.5},{"t":95,"v":43},{"t":98,"v":42},{"t":100,"v":42.3},{"t":105,"v":42.2},{"t":110,"v":41.8},{"t":115,"v":41.5},{"t":120,"v":41.5},{"t":125,"v":41.1},{"t":130,"v":41},{"t":135,"v":40.5},{"t":140,"v":40.2},{"t":145,"v":40.2},{"t":150,"v":40.5},{"t":155,"v":40},{"t":160,"v":40},{"t":165,"v":40},{"t":170,"v":40.3},{"t":175,"v":40.4},{"t":180,"v":41.3},{"t":185,"v":41.3},{"t":190,"v":41.1},{"t":195,"v":41},{"t":200,"v":40.8},{"t":201,"v":18},{"t":202,"v":17},{"t":205,"v":15.5},{"t":210,"v":14.5},{"t":220,"v":14.2},{"t":230,"v":13.8}],
"s8pr": [{"t":0,"v":0},{"t":10.2,"v":0},{"t":12,"v":1.2},{"t":19.5,"v":1.2},{"t":20.5,"v":0},{"t":26,"v":0},{"t":27,"v":1.2},{"t":28,"v":1.6},{"t":29,"v":1.93},{"t":60.5,"v":1.93},{"t":61.5,"v":0},{"t":63,"v":0.8},{"t":64,"v":2.4},{"t":65,"v":2.5},{"t":67,"v":3.5},{"t":68,"v":4.0},{"t":69,"v":4.6},{"t":70,"v":4.7},{"t":71,"v":5.0},{"t":72,"v":5.0},{"t":73,"v":5.7},{"t":75,"v":6.1},{"t":201,"v":6.1},{"t":202,"v":0},{"t":230,"v":0}],
"s8sr": [{"t":0,"v":0},{"t":32.4,"v":0},{"t":33,"v":7},{"t":43.8,"v":7},{"t":45,"v":0},{"t":89.7,"v":0},{"t":91,"v":4},{"t":93,"v":4},{"t":95,"v":6},{"t":97,"v":6},{"t":99,"v":8},{"t":104,"v":8},{"t":106,"v":10},{"t":110,"v":10},{"t":112,"v":0},{"t":115,"v":0},{"t":116,"v":8},{"t":130,"v":8},{"t":131,"v":0},{"t":134.3,"v":0},{"t":135,"v":10},{"t":147.8,"v":10},{"t":149,"v":0},{"t":152.9,"v":0},{"t":153,"v":12},{"t":167.4,"v":12},{"t":168,"v":0},{"t":171,"v":0},{"t":173,"v":14},{"t":178.9,"v":14},{"t":180,"v":0},{"t":182,"v":0},{"t":184,"v":14},{"t":186,"v":15},{"t":195.4,"v":15},{"t":197,"v":0},{"t":230,"v":0}]
},
"spacing": 26,
"vconcat": [
{"spacing": 30, "hconcat": [
 {"width": 966, "height": 642,
  "title": {"text": "Well K-22（3#）", "offset": -41, "fontSize": 45, "frame": "group"},
  "encoding": {"x": {"field": "t", "type": "quantitative", "scale": {"domain": [0, 900], "nice": false}, "axis": {"values": [0,100,200,300,400,500,600,700,800,900], "tickSize": -11, "title": "Time（d）", "titleFontSize": 44, "labelFontSize": 39, "labelPadding": 22, "titlePadding": 24}}},
  "layer": [
   {"data": {"name": "b"}, "mark": {"type": "line", "color": "#00FF00"}, "encoding": {"y": {"field": "v", "type": "quantitative", "scale": {"domain": [0, 8], "nice": false}, "axis": {"orient": "right", "offset": 125, "values": [0,2,4,6,8], "tickSize": -11, "title": "BHFP（MPa）", "titleFontSize": 41, "labelFontSize": 39, "domainColor": "#00FF00", "tickColor": "#00FF00", "labelColor": "#00FF00", "titleColor": "#00FF00", "labelPadding": 22, "titlePadding": 20}}}},
   {"data": {"name": "g"}, "mark": {"type": "line", "color": "#FF0000"}, "encoding": {"y": {"field": "v", "type": "quantitative", "scale": {"domain": [0, 20000], "nice": false}, "axis": {"orient": "left", "values": [0,5000,10000,15000,20000], "labelExpr": "datum.value >= 10000 ? format(datum.value, ',') : format(datum.value, 'd')", "tickSize": -11, "title": "Gas production（m³/d）", "titleFontSize": 41, "labelFontSize": 39, "domainColor": "#FF0000", "tickColor": "#FF0000", "labelColor": "#FF0000", "titleColor": "#FF0000", "labelPadding": 13, "titlePadding": 21}}}},
   {"data": {"name": "w"}, "mark": {"type": "line", "color": "#0000FF"}, "encoding": {"y": {"field": "v", "type": "quantitative", "scale": {"domain": [0, 28], "nice": false}, "axis": {"orient": "right", "values": [0,4,8,12,16,20,24,28], "tickSize": -11, "title": "Water production（m³/d）", "titleFontSize": 41, "labelFontSize": 39, "domainColor": "#0000FF", "tickColor": "#0000FF", "labelColor": "#0000FF", "titleColor": "#0000FF", "labelPadding": 18, "titlePadding": 25}}}}
  ],
  "resolve": {"scale": {"y": "independent"}}
 },
 {"spacing": 85, "hconcat": [
 {"width": 816, "height": 672,
  "title": {"text": "Well K-22—Stage 1 fracturing treatment plot", "offset": -63, "frame": "group"},
  "encoding": {"x": {"field": "t", "type": "quantitative", "scale": {"domain": [0, 240], "nice": false}, "axis": {"values": [0,20,40,60,80,100,120,140,160,180,200,220,240], "labelExpr": "datum.value % 40 == 0 ? datum.label : ''", "tickSize": {"condition": {"test": "datum.value % 40 == 0", "value": -11}, "value": -6}, "title": "Time（min）", "titleFontSize": 44, "labelPadding": 23, "titlePadding": 19}}},
  "layer": [
   {"data": {"name": "s1tp"}, "mark": {"type": "line", "color": "#FF0000"}, "encoding": {"y": {"field": "v", "type": "quantitative", "scale": {"domain": [0, 75], "nice": false}, "axis": {"orient": "left", "values": [0,7.5,15,22.5,30,37.5,45,52.5,60,67.5,75], "labelExpr": "datum.value % 15 == 0 ? datum.label : ''", "tickSize": {"condition": {"test": "datum.value % 15 == 0", "value": -11}, "value": -6}, "title": "Tubing pressure (MPa)", "domainColor": "#FF0000", "tickColor": "#FF0000", "labelColor": "#FF0000", "titleColor": "#FF0000", "labelPadding": 16, "titlePadding": 15}}}},
   {"data": {"name": "s1pr"}, "mark": {"type": "line", "color": "#0000FF"}, "encoding": {"y": {"field": "v", "type": "quantitative", "scale": {"domain": [0, 10], "nice": false}, "axis": {"orient": "right", "values": [0,1,2,3,4,5,6,7,8,9,10], "labelExpr": "datum.value % 2 == 0 ? datum.label : ''", "tickSize": {"condition": {"test": "datum.value % 2 == 0", "value": -11}, "value": -6}, "title": "Pump rate (m³/min)", "domainColor": "#0000FF", "tickColor": "#0000FF", "labelColor": "#0000FF", "titleColor": "#0000FF", "labelPadding": 20, "titlePadding": 0}}}},
   {"data": {"name": "s1cp"}, "mark": {"type": "line", "color": "#FF80FF"}, "encoding": {"y": {"field": "v", "type": "quantitative", "scale": {"domain": [0, 75], "nice": false}, "axis": {"orient": "left", "offset": 140, "values": [0,7.5,15,22.5,30,37.5,45,52.5,60,67.5,75], "labelExpr": "datum.value % 15 == 0 ? datum.label : ''", "tickSize": {"condition": {"test": "datum.value % 15 == 0", "value": -11}, "value": -6}, "title": "Casing pressure (MPa)", "domainColor": "#FF80FF", "tickColor": "#FF80FF", "labelColor": "#FF80FF", "titleColor": "#FF80FF", "labelPadding": 17, "titlePadding": 11}}}},
   {"data": {"name": "s1sr"}, "mark": {"type": "line", "color": "#000000"}, "encoding": {"y": {"field": "v", "type": "quantitative", "scale": {"domain": [0, 100], "nice": false}, "axis": {"orient": "right", "offset": 125, "values": [0,10,20,30,40,50,60,70,80,90,100], "labelExpr": "datum.value % 20 == 0 ? datum.label : ''", "tickSize": {"condition": {"test": "datum.value % 20 == 0", "value": -11}, "value": -6}, "title": "Sand ratio (%)", "labelPadding": 16, "titlePadding": 9}}}}
  ],
  "resolve": {"scale": {"y": "independent"}}
 },
 {"width": 816, "height": 670,
  "title": {"text": "Well K-22 – Stage 2 fracturing treatment plot", "offset": -63, "frame": "group", "dx": 20},
  "encoding": {"x": {"field": "t", "type": "quantitative", "scale": {"domain": [0, 240], "nice": false}, "axis": {"values": [0,20,40,60,80,100,120,140,160,180,200,220,240], "labelExpr": "datum.value % 40 == 0 ? datum.label : ''", "tickSize": {"condition": {"test": "datum.value % 40 == 0", "value": -11}, "value": -6}, "title": "Time（min）", "titleFontSize": 44, "labelPadding": 23, "titlePadding": 19}}},
  "layer": [
   {"data": {"name": "s2tp"}, "mark": {"type": "line", "color": "#FF0000"}, "encoding": {"y": {"field": "v", "type": "quantitative", "scale": {"domain": [0, 75], "nice": false}, "axis": {"orient": "left", "values": [0,7.5,15,22.5,30,37.5,45,52.5,60,67.5,75], "labelExpr": "datum.value % 15 == 0 ? datum.label : ''", "tickSize": {"condition": {"test": "datum.value % 15 == 0", "value": -11}, "value": -6}, "title": "Tubing pressure (MPa)", "domainColor": "#FF0000", "tickColor": "#FF0000", "labelColor": "#FF0000", "titleColor": "#FF0000", "labelPadding": 16, "titlePadding": 15}}}},
   {"data": {"name": "s2pr"}, "mark": {"type": "line", "color": "#0000FF"}, "encoding": {"y": {"field": "v", "type": "quantitative", "scale": {"domain": [0, 10], "nice": false}, "axis": {"orient": "right", "values": [0,1,2,3,4,5,6,7,8,9,10], "labelExpr": "datum.value % 2 == 0 ? datum.label : ''", "tickSize": {"condition": {"test": "datum.value % 2 == 0", "value": -11}, "value": -6}, "title": "Pump rate (m³/min)", "domainColor": "#0000FF", "tickColor": "#0000FF", "labelColor": "#0000FF", "titleColor": "#0000FF", "labelPadding": 20, "titlePadding": 0}}}},
   {"data": {"name": "s2cp"}, "mark": {"type": "line", "color": "#FF80FF"}, "encoding": {"y": {"field": "v", "type": "quantitative", "scale": {"domain": [0, 75], "nice": false}, "axis": {"orient": "left", "offset": 140, "values": [0,7.5,15,22.5,30,37.5,45,52.5,60,67.5,75], "labelExpr": "datum.value % 15 == 0 ? datum.label : ''", "tickSize": {"condition": {"test": "datum.value % 15 == 0", "value": -11}, "value": -6}, "title": "Casing pressure (MPa)", "domainColor": "#FF80FF", "tickColor": "#FF80FF", "labelColor": "#FF80FF", "titleColor": "#FF80FF", "labelPadding": 17, "titlePadding": 11}}}},
   {"data": {"name": "s2sr"}, "mark": {"type": "line", "color": "#000000"}, "encoding": {"y": {"field": "v", "type": "quantitative", "scale": {"domain": [0, 100], "nice": false}, "axis": {"orient": "right", "offset": 125, "values": [0,10,20,30,40,50,60,70,80,90,100], "labelExpr": "datum.value % 20 == 0 ? datum.label : ''", "tickSize": {"condition": {"test": "datum.value % 20 == 0", "value": -11}, "value": -6}, "title": "Sand ratio (%)", "labelPadding": 16, "titlePadding": 9}}}}
  ],
  "resolve": {"scale": {"y": "independent"}}
 }
 ]}
]},
{"spacing": 52, "vconcat": [
{"spacing": -164, "hconcat": [
 {"width": 1, "height": 1, "data": {"name": "spacer"}, "mark": {"type": "point", "opacity": 0}},
 {"spacing": 74, "hconcat": [
 {"width": 816, "height": 670,
  "title": {"text": "Well K-22 – Stage 3 fracturing treatment plot", "offset": -63, "frame": "group", "dx": 20},
  "encoding": {"x": {"field": "t", "type": "quantitative", "scale": {"domain": [0, 240], "nice": false}, "axis": {"values": [0,20,40,60,80,100,120,140,160,180,200,220,240], "labelExpr": "datum.value % 40 == 0 ? datum.label : ''", "tickSize": {"condition": {"test": "datum.value % 40 == 0", "value": -11}, "value": -6}, "title": "Time（min）", "titleFontSize": 44, "labelPadding": 23, "titlePadding": 19}}},
  "layer": [
   {"data": {"name": "s3tp"}, "mark": {"type": "line", "color": "#FF0000"}, "encoding": {"y": {"field": "v", "type": "quantitative", "scale": {"domain": [0, 75], "nice": false}, "axis": {"orient": "left", "values": [0,7.5,15,22.5,30,37.5,45,52.5,60,67.5,75], "labelExpr": "datum.value % 15 == 0 ? datum.label : ''", "tickSize": {"condition": {"test": "datum.value % 15 == 0", "value": -11}, "value": -6}, "title": "Tubing pressure (MPa)", "domainColor": "#FF0000", "tickColor": "#FF0000", "labelColor": "#FF0000", "titleColor": "#FF0000", "labelPadding": 16, "titlePadding": 15}}}},
   {"data": {"name": "s3pr"}, "mark": {"type": "line", "color": "#0000FF"}, "encoding": {"y": {"field": "v", "type": "quantitative", "scale": {"domain": [0, 10], "nice": false}, "axis": {"orient": "right", "values": [0,1,2,3,4,5,6,7,8,9,10], "labelExpr": "datum.value % 2 == 0 ? datum.label : ''", "tickSize": {"condition": {"test": "datum.value % 2 == 0", "value": -11}, "value": -6}, "title": "Pump rate (m³/min)", "domainColor": "#0000FF", "tickColor": "#0000FF", "labelColor": "#0000FF", "titleColor": "#0000FF", "labelPadding": 20, "titlePadding": 0}}}},
   {"data": {"name": "s3cp"}, "mark": {"type": "line", "color": "#FF80FF"}, "encoding": {"y": {"field": "v", "type": "quantitative", "scale": {"domain": [0, 75], "nice": false}, "axis": {"orient": "left", "offset": 140, "values": [0,7.5,15,22.5,30,37.5,45,52.5,60,67.5,75], "labelExpr": "datum.value % 15 == 0 ? datum.label : ''", "tickSize": {"condition": {"test": "datum.value % 15 == 0", "value": -11}, "value": -6}, "title": "Casing pressure (MPa)", "domainColor": "#FF80FF", "tickColor": "#FF80FF", "labelColor": "#FF80FF", "titleColor": "#FF80FF", "labelPadding": 17, "titlePadding": 11}}}},
   {"data": {"name": "s3sr"}, "mark": {"type": "line", "color": "#000000"}, "encoding": {"y": {"field": "v", "type": "quantitative", "scale": {"domain": [0, 100], "nice": false}, "axis": {"orient": "right", "offset": 125, "values": [0,10,20,30,40,50,60,70,80,90,100], "labelExpr": "datum.value % 20 == 0 ? datum.label : ''", "tickSize": {"condition": {"test": "datum.value % 20 == 0", "value": -11}, "value": -6}, "title": "Sand ratio (%)", "labelPadding": 16, "titlePadding": 9}}}}
  ],
  "resolve": {"scale": {"y": "independent"}}
 },
 {"spacing": 80, "hconcat": [
 {"width": 816, "height": 670,
  "title": {"text": "Well K-22 – Stage 4 fracturing treatment plot", "offset": -63, "frame": "group", "dx": 20},
  "encoding": {"x": {"field": "t", "type": "quantitative", "scale": {"domain": [0, 240], "nice": false}, "axis": {"values": [0,20,40,60,80,100,120,140,160,180,200,220,240], "labelExpr": "datum.value % 40 == 0 ? datum.label : ''", "tickSize": {"condition": {"test": "datum.value % 40 == 0", "value": -11}, "value": -6}, "title": "Time（min）", "titleFontSize": 44, "labelPadding": 23, "titlePadding": 19}}},
  "layer": [
   {"data": {"name": "s4tp"}, "mark": {"type": "line", "color": "#FF0000"}, "encoding": {"y": {"field": "v", "type": "quantitative", "scale": {"domain": [0, 75], "nice": false}, "axis": {"orient": "left", "values": [0,7.5,15,22.5,30,37.5,45,52.5,60,67.5,75], "labelExpr": "datum.value % 15 == 0 ? datum.label : ''", "tickSize": {"condition": {"test": "datum.value % 15 == 0", "value": -11}, "value": -6}, "title": "Tubing pressure (MPa)", "domainColor": "#FF0000", "tickColor": "#FF0000", "labelColor": "#FF0000", "titleColor": "#FF0000", "labelPadding": 16, "titlePadding": 15}}}},
   {"data": {"name": "s4pr"}, "mark": {"type": "line", "color": "#0000FF"}, "encoding": {"y": {"field": "v", "type": "quantitative", "scale": {"domain": [0, 10], "nice": false}, "axis": {"orient": "right", "values": [0,1,2,3,4,5,6,7,8,9,10], "labelExpr": "datum.value % 2 == 0 ? datum.label : ''", "tickSize": {"condition": {"test": "datum.value % 2 == 0", "value": -11}, "value": -6}, "title": "Pump rate (m³/min)", "domainColor": "#0000FF", "tickColor": "#0000FF", "labelColor": "#0000FF", "titleColor": "#0000FF", "labelPadding": 20, "titlePadding": 0}}}},
   {"data": {"name": "s4cp"}, "mark": {"type": "line", "color": "#FF80FF"}, "encoding": {"y": {"field": "v", "type": "quantitative", "scale": {"domain": [0, 75], "nice": false}, "axis": {"orient": "left", "offset": 140, "values": [0,7.5,15,22.5,30,37.5,45,52.5,60,67.5,75], "labelExpr": "datum.value % 15 == 0 ? datum.label : ''", "tickSize": {"condition": {"test": "datum.value % 15 == 0", "value": -11}, "value": -6}, "title": "Casing pressure (MPa)", "domainColor": "#FF80FF", "tickColor": "#FF80FF", "labelColor": "#FF80FF", "titleColor": "#FF80FF", "labelPadding": 17, "titlePadding": 11}}}},
   {"data": {"name": "s4sr"}, "mark": {"type": "line", "color": "#000000"}, "encoding": {"y": {"field": "v", "type": "quantitative", "scale": {"domain": [0, 100], "nice": false}, "axis": {"orient": "right", "offset": 125, "values": [0,10,20,30,40,50,60,70,80,90,100], "labelExpr": "datum.value % 20 == 0 ? datum.label : ''", "tickSize": {"condition": {"test": "datum.value % 20 == 0", "value": -11}, "value": -6}, "title": "Sand ratio (%)", "labelPadding": 16, "titlePadding": 9}}}}
  ],
  "resolve": {"scale": {"y": "independent"}}
 },
 {"width": 816, "height": 670,
  "title": {"text": "Well K-22 – Stage 5 fracturing treatment plot", "offset": -63, "frame": "group", "dx": 20},
  "encoding": {"x": {"field": "t", "type": "quantitative", "scale": {"domain": [0, 240], "nice": false}, "axis": {"values": [0,20,40,60,80,100,120,140,160,180,200,220,240], "labelExpr": "datum.value % 40 == 0 ? datum.label : ''", "tickSize": {"condition": {"test": "datum.value % 40 == 0", "value": -11}, "value": -6}, "title": "Time（min）", "titleFontSize": 44, "labelPadding": 23, "titlePadding": 19}}},
  "layer": [
   {"data": {"name": "s5tp"}, "mark": {"type": "line", "color": "#FF0000"}, "encoding": {"y": {"field": "v", "type": "quantitative", "scale": {"domain": [0, 75], "nice": false}, "axis": {"orient": "left", "values": [0,7.5,15,22.5,30,37.5,45,52.5,60,67.5,75], "labelExpr": "datum.value % 15 == 0 ? datum.label : ''", "tickSize": {"condition": {"test": "datum.value % 15 == 0", "value": -11}, "value": -6}, "title": "Tubing pressure (MPa)", "domainColor": "#FF0000", "tickColor": "#FF0000", "labelColor": "#FF0000", "titleColor": "#FF0000", "labelPadding": 16, "titlePadding": 15}}}},
   {"data": {"name": "s5pr"}, "mark": {"type": "line", "color": "#0000FF"}, "encoding": {"y": {"field": "v", "type": "quantitative", "scale": {"domain": [0, 10], "nice": false}, "axis": {"orient": "right", "values": [0,1,2,3,4,5,6,7,8,9,10], "labelExpr": "datum.value % 2 == 0 ? datum.label : ''", "tickSize": {"condition": {"test": "datum.value % 2 == 0", "value": -11}, "value": -6}, "title": "Pump rate (m³/min)", "domainColor": "#0000FF", "tickColor": "#0000FF", "labelColor": "#0000FF", "titleColor": "#0000FF", "labelPadding": 20, "titlePadding": 0}}}},
   {"data": {"name": "s5cp"}, "mark": {"type": "line", "color": "#FF80FF"}, "encoding": {"y": {"field": "v", "type": "quantitative", "scale": {"domain": [0, 75], "nice": false}, "axis": {"orient": "left", "offset": 140, "values": [0,7.5,15,22.5,30,37.5,45,52.5,60,67.5,75], "labelExpr": "datum.value % 15 == 0 ? datum.label : ''", "tickSize": {"condition": {"test": "datum.value % 15 == 0", "value": -11}, "value": -6}, "title": "Casing pressure (MPa)", "domainColor": "#FF80FF", "tickColor": "#FF80FF", "labelColor": "#FF80FF", "titleColor": "#FF80FF", "labelPadding": 17, "titlePadding": 11}}}},
   {"data": {"name": "s5sr"}, "mark": {"type": "line", "color": "#000000"}, "encoding": {"y": {"field": "v", "type": "quantitative", "scale": {"domain": [0, 100], "nice": false}, "axis": {"orient": "right", "offset": 125, "values": [0,10,20,30,40,50,60,70,80,90,100], "labelExpr": "datum.value % 20 == 0 ? datum.label : ''", "tickSize": {"condition": {"test": "datum.value % 20 == 0", "value": -11}, "value": -6}, "title": "Sand ratio (%)", "labelPadding": 16, "titlePadding": 9}}}}
  ],
  "resolve": {"scale": {"y": "independent"}}
 }
 ]}
 ]}
]},
{"spacing": -164, "hconcat": [
 {"width": 1, "height": 1, "data": {"name": "spacer"}, "mark": {"type": "point", "opacity": 0}},
 {"spacing": 74, "hconcat": [
 {"width": 816, "height": 670,
  "title": {"text": "Well K-22 – Stage 6 fracturing treatment plot", "offset": -63, "frame": "group", "dx": 20},
  "encoding": {"x": {"field": "t", "type": "quantitative", "scale": {"domain": [0, 240], "nice": false}, "axis": {"values": [0,20,40,60,80,100,120,140,160,180,200,220,240], "labelExpr": "datum.value % 40 == 0 ? datum.label : ''", "tickSize": {"condition": {"test": "datum.value % 40 == 0", "value": -11}, "value": -6}, "title": "Time（min）", "titleFontSize": 44, "labelPadding": 23, "titlePadding": 19}}},
  "layer": [
   {"data": {"name": "s6tp"}, "mark": {"type": "line", "color": "#FF0000"}, "encoding": {"y": {"field": "v", "type": "quantitative", "scale": {"domain": [0, 75], "nice": false}, "axis": {"orient": "left", "values": [0,7.5,15,22.5,30,37.5,45,52.5,60,67.5,75], "labelExpr": "datum.value % 15 == 0 ? datum.label : ''", "tickSize": {"condition": {"test": "datum.value % 15 == 0", "value": -11}, "value": -6}, "title": "Tubing pressure (MPa)", "domainColor": "#FF0000", "tickColor": "#FF0000", "labelColor": "#FF0000", "titleColor": "#FF0000", "labelPadding": 16, "titlePadding": 15}}}},
   {"data": {"name": "s6pr"}, "mark": {"type": "line", "color": "#0000FF"}, "encoding": {"y": {"field": "v", "type": "quantitative", "scale": {"domain": [0, 10], "nice": false}, "axis": {"orient": "right", "values": [0,1,2,3,4,5,6,7,8,9,10], "labelExpr": "datum.value % 2 == 0 ? datum.label : ''", "tickSize": {"condition": {"test": "datum.value % 2 == 0", "value": -11}, "value": -6}, "title": "Pump rate (m³/min)", "domainColor": "#0000FF", "tickColor": "#0000FF", "labelColor": "#0000FF", "titleColor": "#0000FF", "labelPadding": 20, "titlePadding": 0}}}},
   {"data": {"name": "s6cp"}, "mark": {"type": "line", "color": "#FF80FF"}, "encoding": {"y": {"field": "v", "type": "quantitative", "scale": {"domain": [0, 75], "nice": false}, "axis": {"orient": "left", "offset": 140, "values": [0,7.5,15,22.5,30,37.5,45,52.5,60,67.5,75], "labelExpr": "datum.value % 15 == 0 ? datum.label : ''", "tickSize": {"condition": {"test": "datum.value % 15 == 0", "value": -11}, "value": -6}, "title": "Casing pressure (MPa)", "domainColor": "#FF80FF", "tickColor": "#FF80FF", "labelColor": "#FF80FF", "titleColor": "#FF80FF", "labelPadding": 17, "titlePadding": 11}}}},
   {"data": {"name": "s6sr"}, "mark": {"type": "line", "color": "#000000"}, "encoding": {"y": {"field": "v", "type": "quantitative", "scale": {"domain": [0, 100], "nice": false}, "axis": {"orient": "right", "offset": 125, "values": [0,10,20,30,40,50,60,70,80,90,100], "labelExpr": "datum.value % 20 == 0 ? datum.label : ''", "tickSize": {"condition": {"test": "datum.value % 20 == 0", "value": -11}, "value": -6}, "title": "Sand ratio (%)", "labelPadding": 16, "titlePadding": 9}}}}
  ],
  "resolve": {"scale": {"y": "independent"}}
 },
 {"spacing": 80, "hconcat": [
 {"width": 816, "height": 670,
  "title": {"text": "Well K-22 – Stage 7 fracturing treatment plot", "offset": -63, "frame": "group", "dx": 20},
  "encoding": {"x": {"field": "t", "type": "quantitative", "scale": {"domain": [0, 240], "nice": false}, "axis": {"values": [0,20,40,60,80,100,120,140,160,180,200,220,240], "labelExpr": "datum.value % 40 == 0 ? datum.label : ''", "tickSize": {"condition": {"test": "datum.value % 40 == 0", "value": -11}, "value": -6}, "title": "Time（min）", "titleFontSize": 44, "labelPadding": 23, "titlePadding": 19}}},
  "layer": [
   {"data": {"name": "s7tp"}, "mark": {"type": "line", "color": "#FF0000"}, "encoding": {"y": {"field": "v", "type": "quantitative", "scale": {"domain": [0, 75], "nice": false}, "axis": {"orient": "left", "values": [0,7.5,15,22.5,30,37.5,45,52.5,60,67.5,75], "labelExpr": "datum.value % 15 == 0 ? datum.label : ''", "tickSize": {"condition": {"test": "datum.value % 15 == 0", "value": -11}, "value": -6}, "title": "Tubing pressure (MPa)", "domainColor": "#FF0000", "tickColor": "#FF0000", "labelColor": "#FF0000", "titleColor": "#FF0000", "labelPadding": 16, "titlePadding": 15}}}},
   {"data": {"name": "s7pr"}, "mark": {"type": "line", "color": "#0000FF"}, "encoding": {"y": {"field": "v", "type": "quantitative", "scale": {"domain": [0, 10], "nice": false}, "axis": {"orient": "right", "values": [0,1,2,3,4,5,6,7,8,9,10], "labelExpr": "datum.value % 2 == 0 ? datum.label : ''", "tickSize": {"condition": {"test": "datum.value % 2 == 0", "value": -11}, "value": -6}, "title": "Pump rate (m³/min)", "domainColor": "#0000FF", "tickColor": "#0000FF", "labelColor": "#0000FF", "titleColor": "#0000FF", "labelPadding": 20, "titlePadding": 0}}}},
   {"data": {"name": "s7cp"}, "mark": {"type": "line", "color": "#FF80FF"}, "encoding": {"y": {"field": "v", "type": "quantitative", "scale": {"domain": [0, 75], "nice": false}, "axis": {"orient": "left", "offset": 140, "values": [0,7.5,15,22.5,30,37.5,45,52.5,60,67.5,75], "labelExpr": "datum.value % 15 == 0 ? datum.label : ''", "tickSize": {"condition": {"test": "datum.value % 15 == 0", "value": -11}, "value": -6}, "title": "Casing pressure (MPa)", "domainColor": "#FF80FF", "tickColor": "#FF80FF", "labelColor": "#FF80FF", "titleColor": "#FF80FF", "labelPadding": 17, "titlePadding": 11}}}},
   {"data": {"name": "s7sr"}, "mark": {"type": "line", "color": "#000000"}, "encoding": {"y": {"field": "v", "type": "quantitative", "scale": {"domain": [0, 100], "nice": false}, "axis": {"orient": "right", "offset": 125, "values": [0,10,20,30,40,50,60,70,80,90,100], "labelExpr": "datum.value % 20 == 0 ? datum.label : ''", "tickSize": {"condition": {"test": "datum.value % 20 == 0", "value": -11}, "value": -6}, "title": "Sand ratio (%)", "labelPadding": 16, "titlePadding": 9}}}}
  ],
  "resolve": {"scale": {"y": "independent"}}
 },
 {"width": 816, "height": 670,
  "title": {"text": "Well K-22 – Stage 8 fracturing treatment plot", "offset": -63, "frame": "group", "dx": 20},
  "encoding": {"x": {"field": "t", "type": "quantitative", "scale": {"domain": [0, 240], "nice": false}, "axis": {"values": [0,20,40,60,80,100,120,140,160,180,200,220,240], "labelExpr": "datum.value % 40 == 0 ? datum.label : ''", "tickSize": {"condition": {"test": "datum.value % 40 == 0", "value": -11}, "value": -6}, "title": "Time（min）", "titleFontSize": 44, "labelPadding": 23, "titlePadding": 19}}},
  "layer": [
   {"data": {"name": "s8tp"}, "mark": {"type": "line", "color": "#FF0000"}, "encoding": {"y": {"field": "v", "type": "quantitative", "scale": {"domain": [0, 75], "nice": false}, "axis": {"orient": "left", "values": [0,7.5,15,22.5,30,37.5,45,52.5,60,67.5,75], "labelExpr": "datum.value % 15 == 0 ? datum.label : ''", "tickSize": {"condition": {"test": "datum.value % 15 == 0", "value": -11}, "value": -6}, "title": "Tubing pressure (MPa)", "domainColor": "#FF0000", "tickColor": "#FF0000", "labelColor": "#FF0000", "titleColor": "#FF0000", "labelPadding": 16, "titlePadding": 15}}}},
   {"data": {"name": "s8pr"}, "mark": {"type": "line", "color": "#0000FF"}, "encoding": {"y": {"field": "v", "type": "quantitative", "scale": {"domain": [0, 10], "nice": false}, "axis": {"orient": "right", "values": [0,1,2,3,4,5,6,7,8,9,10], "labelExpr": "datum.value % 2 == 0 ? datum.label : ''", "tickSize": {"condition": {"test": "datum.value % 2 == 0", "value": -11}, "value": -6}, "title": "Pump rate (m³/min)", "domainColor": "#0000FF", "tickColor": "#0000FF", "labelColor": "#0000FF", "titleColor": "#0000FF", "labelPadding": 20, "titlePadding": 0}}}},
   {"data": {"name": "s8cp"}, "mark": {"type": "line", "color": "#FF80FF"}, "encoding": {"y": {"field": "v", "type": "quantitative", "scale": {"domain": [0, 75], "nice": false}, "axis": {"orient": "left", "offset": 140, "values": [0,7.5,15,22.5,30,37.5,45,52.5,60,67.5,75], "labelExpr": "datum.value % 15 == 0 ? datum.label : ''", "tickSize": {"condition": {"test": "datum.value % 15 == 0", "value": -11}, "value": -6}, "title": "Casing pressure (MPa)", "domainColor": "#FF80FF", "tickColor": "#FF80FF", "labelColor": "#FF80FF", "titleColor": "#FF80FF", "labelPadding": 17, "titlePadding": 11}}}},
   {"data": {"name": "s8sr"}, "mark": {"type": "line", "color": "#000000"}, "encoding": {"y": {"field": "v", "type": "quantitative", "scale": {"domain": [0, 100], "nice": false}, "axis": {"orient": "right", "offset": 125, "values": [0,10,20,30,40,50,60,70,80,90,100], "labelExpr": "datum.value % 20 == 0 ? datum.label : ''", "tickSize": {"condition": {"test": "datum.value % 20 == 0", "value": -11}, "value": -6}, "title": "Sand ratio (%)", "labelPadding": 16, "titlePadding": 9}}}}
  ],
  "resolve": {"scale": {"y": "independent"}}
 }
 ]}
 ]}
]}
]}
]
}
